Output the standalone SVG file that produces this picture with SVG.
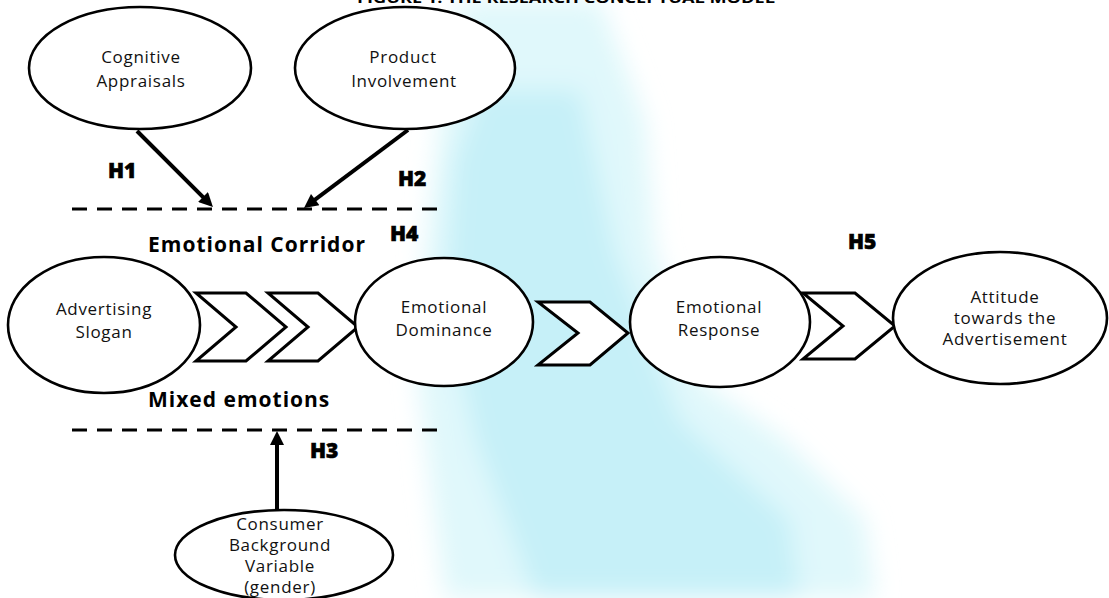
<svg xmlns="http://www.w3.org/2000/svg" width="1109" height="598" viewBox="0 0 1109 598">
<style>
.node ellipse{fill:#fff;stroke:#000;stroke-width:2.6}
.t{font-family:"Open Sans","Noto Sans",sans-serif;font-size:17px;letter-spacing:0.7px;fill:#111;text-anchor:middle}
.b{font-family:"Open Sans","Noto Sans",sans-serif;font-weight:700;fill:#000}
.lb{font-size:21px;letter-spacing:1px}
.h{font-family:"Open Sans","Noto Sans",sans-serif;font-weight:800;font-size:21px;fill:#000;stroke:#000;stroke-width:0.6}
.chev{fill:#fff;stroke:#000;stroke-width:3;stroke-linejoin:miter}
.dash{stroke:#000;stroke-width:3.2;stroke-dasharray:15 10;fill:none}
.arr{stroke:#000;stroke-width:4;fill:none;marker-end:url(#ah)}
</style>
<defs>
<marker id="ah" viewBox="0 0 10 10" refX="4.3" refY="5" markerWidth="15" markerHeight="14" markerUnits="userSpaceOnUse" orient="auto">
<path d="M0,0 L10,5 L0,10 z" fill="#000"/>
</marker>
<filter id="blur" x="-20%" y="-20%" width="140%" height="140%"><feGaussianBlur stdDeviation="12"/></filter>
</defs>
<rect width="1109" height="598" fill="#fff"/>
<g id="watermark" filter="url(#blur)">
<path d="M460,0 L600,0 L645,120 L655,250 L700,380 L785,440 L865,520 L875,598 L445,598 L430,480 L418,380 L425,250 L440,120 Z" fill="#e0f8fb"/>
<path d="M480,90 L580,90 L615,250 L680,420 L790,520 L800,598 L535,598 L475,440 L445,300 L455,160 Z" fill="#c6f0f8"/>
</g>
<text class="b" x="357" y="3" font-size="14" textLength="418" lengthAdjust="spacingAndGlyphs">FIGURE 1: THE RESEARCH CONCEPTUAL MODEL</text>
<g id="connectors">
<line class="dash" x1="72" y1="209" x2="446" y2="209"/>
<line class="dash" x1="72" y1="430" x2="446" y2="430"/>
<path class="arr" d="M137,131 L207.3,201.3"/>
<path class="arr" d="M408,130 L310.4,203.2"/>
<path class="arr" d="M277,510 L277,439"/>
<polygon class="chev" points="196,293 246,293 286,327 246,361 196,361 236,327"/>
<polygon class="chev" points="268,293 318,293 358,327 318,361 268,361 308,327"/>
<polygon class="chev" points="538,302 590,302 628,333 590,365 538,365 578,333"/>
<polygon class="chev" points="803,293 855,293 895,326 855,359 803,359 843,326"/>
</g>
<g id="labels">
<text class="h" x="108" y="178">H1</text>
<text class="h" x="398" y="186">H2</text>
<text class="h" x="390" y="241">H4</text>
<text class="h" x="848" y="249">H5</text>
<text class="h" x="310" y="458">H3</text>
<text class="b lb" x="148" y="252">Emotional Corridor</text>
<text class="b lb" x="148" y="407">Mixed emotions</text>
</g>
<g id="cognitive" class="node">
<ellipse cx="140" cy="68" rx="111" ry="61"/>
<text class="t" x="141" y="63">Cognitive</text>
<text class="t" x="141" y="87">Appraisals</text>
</g>
<g id="product" class="node">
<ellipse cx="405" cy="68" rx="110" ry="61"/>
<text class="t" x="403" y="63">Product</text>
<text class="t" x="404" y="87">Involvement</text>
</g>
<g id="slogan" class="node">
<ellipse cx="104" cy="325" rx="96" ry="68"/>
<text class="t" x="104" y="315">Advertising</text>
<text class="t" x="104" y="338">Slogan</text>
</g>
<g id="dominance" class="node">
<ellipse cx="444" cy="322" rx="89" ry="64"/>
<text class="t" x="444" y="313">Emotional</text>
<text class="t" x="444" y="336">Dominance</text>
</g>
<g id="response" class="node">
<ellipse cx="720" cy="322" rx="90" ry="65"/>
<text class="t" x="719" y="313">Emotional</text>
<text class="t" x="719" y="336">Response</text>
</g>
<g id="attitude" class="node">
<ellipse cx="1000" cy="318" rx="107" ry="66"/>
<text class="t" x="1005" y="303">Attitude</text>
<text class="t" x="1005" y="324">towards the</text>
<text class="t" x="1005" y="345">Advertisement</text>
</g>
<g id="consumer" class="node">
<ellipse cx="284" cy="555" rx="109" ry="45"/>
<text class="t" x="280" y="530">Consumer</text>
<text class="t" x="280" y="551">Background</text>
<text class="t" x="280" y="572">Variable</text>
<text class="t" x="280" y="593">(gender)</text>
</g>
</svg>
